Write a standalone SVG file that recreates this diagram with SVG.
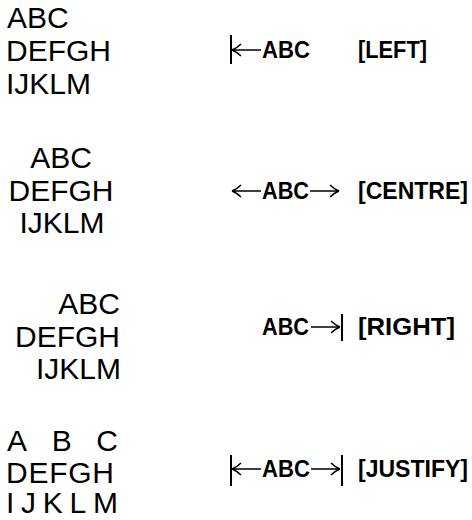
<svg xmlns="http://www.w3.org/2000/svg" width="472" height="520" viewBox="0 0 472 520">
<style>
.blk{font-family:"Liberation Sans",Arial,sans-serif;font-size:30px;fill:#000}
.lbl{font-family:"Liberation Sans",Arial,sans-serif;font-size:23px;font-weight:bold;fill:#000}
.ln{stroke:#000;stroke-width:1.5;fill:none;stroke-linecap:butt}
.bar{stroke:#000;stroke-width:2;fill:none}
</style>
<defs>
<path id="la" d="M0,0 H29 M0,0 Q5,-2 9,-6 M0,0 Q5,2 9,6"/>
<path id="ra" d="M0,0 H-29 M0,0 Q-5,-2 -9,-6 M0,0 Q-5,2 -9,6"/>
</defs>
<rect width="472" height="520" fill="#fff"/>
<g id="left-block">
<text class="blk" x="7" y="28">ABC</text>
<text class="blk" x="6" y="61">DEFGH</text>
<text class="blk" x="6" y="94">IJKLM</text>
</g>
<g id="left-label">
<text class="lbl" x="262" y="58" textLength="48" lengthAdjust="spacingAndGlyphs">ABC</text>
<text class="lbl" x="358" y="58" textLength="69" lengthAdjust="spacingAndGlyphs">[LEFT]</text>
</g>
<g id="centre-block">
<text class="blk" x="61" y="168" text-anchor="middle">ABC</text>
<text class="blk" x="61" y="201" text-anchor="middle">DEFGH</text>
<text class="blk" x="62" y="233" text-anchor="middle">IJKLM</text>
</g>
<g id="centre-label">
<text class="lbl" x="262" y="199" textLength="47" lengthAdjust="spacingAndGlyphs">ABC</text>
<text class="lbl" x="358" y="199" textLength="110" lengthAdjust="spacingAndGlyphs">[CENTRE]</text>
</g>
<g id="right-block">
<text class="blk" x="120" y="314" text-anchor="end">ABC</text>
<text class="blk" x="120" y="347" text-anchor="end">DEFGH</text>
<text class="blk" x="121" y="379" text-anchor="end">IJKLM</text>
</g>
<g id="right-label">
<text class="lbl" x="262" y="335" textLength="47" lengthAdjust="spacingAndGlyphs">ABC</text>
<text class="lbl" x="358" y="335" textLength="97" lengthAdjust="spacingAndGlyphs">[RIGHT]</text>
</g>
<g id="justify-block">
<text class="blk" x="7" y="451" textLength="111" lengthAdjust="spacing">ABC</text>
<text class="blk" x="6" y="483" textLength="108" lengthAdjust="spacing">DEFGH</text>
<text class="blk" x="6" y="513" textLength="112" lengthAdjust="spacing">IJKLM</text>
</g>
<g id="justify-label">
<text class="lbl" x="262" y="477" textLength="48" lengthAdjust="spacingAndGlyphs">ABC</text>
<text class="lbl" x="358" y="477" textLength="110" lengthAdjust="spacingAndGlyphs">[JUSTIFY]</text>
</g>
<g id="connectors">
<line class="bar" x1="231" y1="35" x2="231" y2="64"/>
<use href="#la" class="ln" x="232" y="50"/>
<use href="#la" class="ln" x="232" y="191"/>
<use href="#ra" class="ln" x="339" y="191"/>
<use href="#ra" class="ln" x="340" y="327"/>
<line class="bar" x1="342" y1="314" x2="342" y2="341"/>
<line class="bar" x1="231" y1="455" x2="231" y2="486"/>
<use href="#la" class="ln" x="232" y="469"/>
<use href="#ra" class="ln" x="340" y="469"/>
<line class="bar" x1="342" y1="455" x2="342" y2="486"/>
</g>
</svg>
